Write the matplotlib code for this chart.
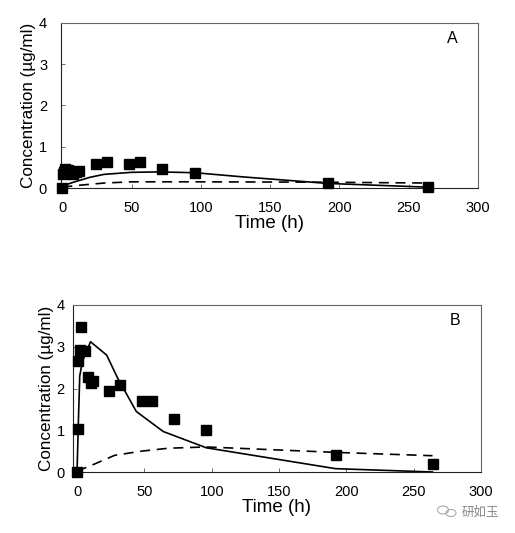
import matplotlib.pyplot as plt
from matplotlib.patches import Ellipse

plt.rcParams["font.family"] = ["Liberation Sans", "DejaVu Sans"]

# panel A: observed points and the two model curves
a_t = [0, 0.5, 1, 2, 4, 6, 8, 10, 12, 24, 32, 48, 56, 72, 96, 192, 264]
a_obs = [0.0, 0.33, 0.38, 0.45, 0.43, 0.38, 0.35, 0.38, 0.42, 0.57, 0.63, 0.58, 0.63, 0.45, 0.37, 0.12, 0.03]
a_fit_t = [0, 8, 20, 30, 50, 70, 96, 130, 192, 264]
a_fit = [0.05, 0.14, 0.26, 0.33, 0.38, 0.39, 0.37, 0.27, 0.11, 0.02]
a_dash_t = [0, 10, 30, 50, 96, 192, 264]
a_dash = [0.02, 0.06, 0.12, 0.15, 0.15, 0.14, 0.12]

# panel B
b_t = [0, 0.5, 1, 2, 3, 6, 8, 10, 12, 24, 32, 48, 56, 72, 96, 192, 264]
b_obs = [0.0, 1.02, 2.65, 2.93, 3.48, 2.9, 2.27, 2.12, 2.17, 1.95, 2.08, 1.7, 1.7, 1.27, 1.0, 0.41, 0.2]
b_fit_t = [0, 1, 2, 4, 10, 22, 30, 44, 64, 96, 192, 264]
b_fit = [0.0, 1.2, 2.3, 2.65, 3.12, 2.8, 2.26, 1.45, 0.97, 0.58, 0.08, 0.0]
b_dash_t = [0, 10, 28, 48, 68, 96, 192, 264]
b_dash = [0.02, 0.15, 0.4, 0.5, 0.57, 0.6, 0.47, 0.39]

xticks = [0, 50, 100, 150, 200, 250, 300]
yticks = [0, 1, 2, 3, 4]

W, H = 515, 533
fig = plt.figure(figsize=(W / 100, H / 100), dpi=100)


def panel(rect, xmin, t, obs, ft, f, dt, d, tag, ypad):
    ax = fig.add_axes(rect)
    ax.plot(ft, f, color="black", lw=1.2)
    ax.plot(dt, d, color="black", lw=1.2, ls=(0, (6, 4)))
    ax.plot(t, obs, ls="none", marker="s", ms=6.5, color="black", clip_on=False, zorder=5)
    ax.set_xlim(xmin, 300)
    ax.set_ylim(0, 4)
    ax.set_xticks(xticks)
    ax.set_yticks(yticks)
    ax.tick_params(direction="in", length=3, width=0.6, labelsize=10.5, color="#555555")
    ax.tick_params(axis="x", pad=9)
    ax.tick_params(axis="y", pad=ypad)
    for s in ax.spines.values():
        s.set_linewidth(0.8)
        s.set_color("#666666")
    ax.spines["left"].set_color("#222222")
    ax.spines["bottom"].set_color("#222222")
    ax.set_xlabel("Time (h)", fontsize=13.5, labelpad=0)
    ax.set_ylabel("Concentration (\u00b5g/ml)", fontsize=12.3, labelpad=2)
    ax.text(0.95, 0.86, tag, transform=ax.transAxes, fontsize=11.5, ha="right", va="bottom")
    return ax


panel([61 / W, 1 - 188 / H, (478 - 61) / W, 165 / H], -1,
      a_t, a_obs, a_fit_t, a_fit, a_dash_t, a_dash, "A", 10)
panel([73 / W, 1 - 472 / H, (481 - 73) / W, 167 / H], -3,
      b_t, b_obs, b_fit_t, b_fit, b_dash_t, b_dash, "B", 6)

# watermark
fig.patches.append(Ellipse((443 / W, 1 - 510 / H), 11 / W, 8 / H, transform=fig.transFigure,
                           fill=False, ec="#aaaaaa", lw=0.8))
fig.patches.append(Ellipse((451 / W, 1 - 513 / H), 10 / W, 7 / H, transform=fig.transFigure,
                           fill=False, ec="#aaaaaa", lw=0.8))
fig.text(462 / W, 1 - 512 / H, "研如玉", fontsize=9, color="#888888", va="center",
         family=["Noto Sans CJK SC", "DejaVu Sans"])

fig.savefig("out.png", dpi=100)
